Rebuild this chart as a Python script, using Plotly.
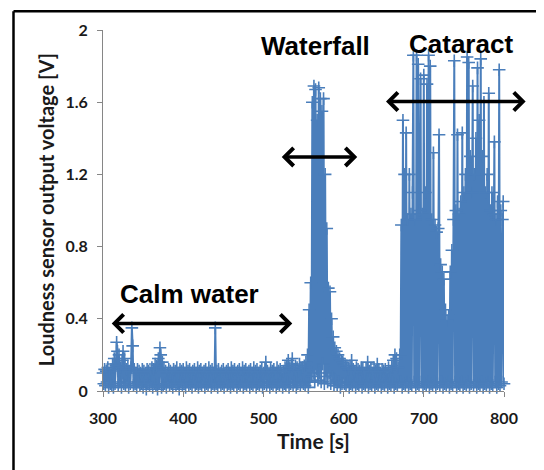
import plotly.graph_objects as go

# ---------------- data (1 sample per second) ----------------
calm_water = [  # t = 300 .. 549
    0.10, 0.04, 0.12, 0.03, 0.11, 0.05, 0.13, 0.02, 0.10, 0.04,
    0.12, 0.03, 0.15, 0.02, 0.18, 0.04, 0.14, 0.27, 0.22, 0.03,
    0.20, 0.05, 0.13, 0.02, 0.17, 0.22, 0.04, 0.18, 0.03, 0.12,
    0.05, 0.14, 0.02, 0.11, 0.04, 0.13, 0.35, 0.25, 0.03, 0.12,
    0.04, 0.10, 0.02, 0.12, 0.05, 0.11, 0.03, 0.10, 0.04, 0.12,
    0.02, 0.11, 0.05, 0.10, 0.01, 0.12, 0.04, 0.11, 0.03, 0.10,
    0.05, 0.13, 0.02, 0.12, 0.04, 0.15, 0.03, 0.14, 0.01, 0.18,
    0.04, 0.24, 0.20, 0.02, 0.16, 0.03, 0.13, 0.04, 0.11, 0.02,
    0.10, 0.05, 0.12, 0.03, 0.11, 0.04, 0.10, 0.02, 0.12, 0.05,
    0.11, 0.03, 0.13, 0.04, 0.10, 0.01, 0.12, 0.05, 0.11, 0.03,
    0.12, 0.04, 0.10, 0.02, 0.13, 0.05, 0.11, 0.03, 0.12, 0.04,
    0.10, 0.02, 0.11, 0.05, 0.12, 0.03, 0.10, 0.04, 0.13, 0.02,
    0.11, 0.04, 0.12, 0.03, 0.10, 0.05, 0.11, 0.02, 0.12, 0.04,
    0.10, 0.03, 0.13, 0.05, 0.11, 0.02, 0.12, 0.04, 0.10, 0.03,
    0.35, 0.04, 0.11, 0.02, 0.12, 0.05, 0.10, 0.03, 0.11, 0.04,
    0.12, 0.02, 0.10, 0.05, 0.11, 0.03, 0.12, 0.04, 0.10, 0.02,
    0.13, 0.04, 0.11, 0.03, 0.12, 0.05, 0.10, 0.02, 0.11, 0.04,
    0.12, 0.03, 0.10, 0.05, 0.13, 0.02, 0.11, 0.04, 0.12, 0.03,
    0.10, 0.05, 0.11, 0.02, 0.12, 0.04, 0.10, 0.03, 0.13, 0.05,
    0.11, 0.02, 0.12, 0.04, 0.10, 0.03, 0.11, 0.05, 0.12, 0.02,
    0.10, 0.04, 0.12, 0.16, 0.03, 0.11, 0.05, 0.10, 0.02, 0.12,
    0.04, 0.11, 0.03, 0.12, 0.05, 0.10, 0.02, 0.13, 0.04, 0.11,
    0.03, 0.12, 0.05, 0.10, 0.02, 0.11, 0.04, 0.13, 0.03, 0.14,
    0.05, 0.17, 0.02, 0.13, 0.04, 0.15, 0.18, 0.03, 0.12, 0.05,
    0.14, 0.02, 0.13, 0.04, 0.11, 0.15, 0.03, 0.12, 0.05, 0.13,
]
waterfall = [  # t = 550 .. 599
    0.04, 0.14, 0.03, 0.16, 0.05, 0.20, 0.02, 0.45, 0.05, 0.60,
    0.08, 1.60, 0.10, 1.69, 0.05, 1.67, 0.12, 1.50, 0.06, 1.68,
    0.10, 1.62, 0.05, 1.55, 0.15, 1.62, 0.04, 1.20, 0.08, 0.90,
    0.05, 0.57, 0.10, 0.55, 0.04, 0.40, 0.08, 0.30, 0.03, 0.24,
    0.06, 0.22, 0.03, 0.20, 0.05, 0.18, 0.02, 0.17, 0.04, 0.16,
]
after_waterfall = [  # t = 600 .. 669
    0.15, 0.04, 0.14, 0.03, 0.13, 0.05, 0.12, 0.02, 0.14, 0.04,
    0.17, 0.03, 0.12, 0.05, 0.11, 0.02, 0.13, 0.04, 0.12, 0.03,
    0.11, 0.05, 0.13, 0.02, 0.12, 0.04, 0.10, 0.03, 0.12, 0.05,
    0.16, 0.02, 0.11, 0.04, 0.12, 0.03, 0.10, 0.05, 0.13, 0.02,
    0.11, 0.04, 0.15, 0.03, 0.12, 0.05, 0.10, 0.02, 0.12, 0.04,
    0.11, 0.03, 0.12, 0.05, 0.10, 0.02, 0.13, 0.04, 0.11, 0.03,
    0.14, 0.05, 0.17, 0.02, 0.20, 0.04, 0.18, 0.03, 0.13, 0.05,
]
cataract = [  # t = 670 .. 800
    0.20, 0.05, 0.92, 0.02, 1.50, 0.04, 1.20, 0.03, 1.43, 0.05,
    0.95, 0.02, 1.20, 0.04, 0.98, 0.03, 1.10, 1.86, 0.05, 0.95,
    0.02, 1.86, 0.04, 1.81, 0.03, 1.00, 1.73, 0.05, 0.98, 0.02,
    1.75, 0.04, 1.10, 0.03, 1.70, 0.05, 1.86, 0.02, 1.80, 0.04,
    0.95, 0.03, 1.32, 0.05, 0.92, 0.02, 0.88, 0.04, 0.90, 1.42,
    0.03, 0.70, 0.05, 0.66, 0.02, 0.62, 0.04, 0.45, 0.03, 0.39,
    0.05, 0.42, 0.02, 0.66, 0.04, 0.78, 0.03, 0.95, 1.83, 0.05,
    1.00, 0.02, 1.42, 0.04, 0.98, 0.03, 1.05, 0.05, 1.43, 0.02,
    1.10, 0.04, 1.20, 0.03, 1.85, 0.05, 1.82, 0.02, 1.30, 0.04,
    1.10, 1.69, 0.03, 1.20, 0.05, 1.40, 0.02, 1.79, 0.04, 1.50,
    0.03, 1.84, 0.05, 1.30, 0.02, 1.60, 0.04, 1.10, 0.03, 1.20,
    0.05, 1.65, 0.02, 1.00, 0.04, 1.10, 0.03, 0.98, 1.38, 0.05,
    0.95, 0.02, 1.05, 0.04, 1.78, 0.03, 1.00, 0.05, 0.95, 1.05,
    0.04,
]
time_start = 300
time_end = 800
x_ticks = [300, 400, 500, 600, 700, 800]
y_ticks = [0, 0.4, 0.8, 1.2, 1.6, 2]
y_tick_labels = ["0", "0.4", "0.8", "1.2", "1.6", "2"]

voltage = calm_water + waterfall + after_waterfall + cataract
time_s = list(range(time_start, time_end + 1))

# ---------------- figure ----------------
BLUE = "#4A7EBB"
AXIS_GREY = "#868686"
TEXT_DARK = "#1a1a1a"
TICK_FONT = dict(family="Lato", size=16, color=TEXT_DARK, weight=700)
NOTE_FONT = dict(family="Liberation Sans", size=26, color="#000000", weight=700)

fig = go.Figure()
fig.add_trace(go.Scatter(
    x=time_s, y=voltage, mode="lines+markers",
    line=dict(color=BLUE, width=2),
    marker=dict(symbol="cross-thin", size=9, color=BLUE,
                line=dict(color=BLUE, width=1.6)),
    cliponaxis=False, showlegend=False, hoverinfo="x+y",
))

# the page body adds an 8 px offset, so the figure is 8 px smaller than the window
fig.update_layout(
    width=536, height=462,
    margin=dict(l=95, r=40, t=19, b=79, pad=0),
    paper_bgcolor="white", plot_bgcolor="white",
    xaxis=dict(range=[time_start, time_end], tickvals=x_ticks,
               showgrid=False, zeroline=False, showline=True,
               linecolor=AXIS_GREY, linewidth=1, ticks="outside",
               ticklen=5, tickcolor=AXIS_GREY, tickfont=TICK_FONT,
               ticklabelstandoff=8),
    yaxis=dict(range=[0, 2], tickvals=y_ticks, ticktext=y_tick_labels,
               showgrid=False, zeroline=False, showline=True,
               linecolor=AXIS_GREY, linewidth=1, ticks="outside",
               ticklen=5, tickcolor=AXIS_GREY, tickfont=TICK_FONT,
               ticklabelstandoff=6),
)

# axis titles
fig.add_annotation(text="Time [s]", xref="paper", yref="paper",
                   x=0.526, y=-0.137, xanchor="center", yanchor="middle",
                   showarrow=False,
                   font=dict(family="Lato", size=21, color=TEXT_DARK, weight=700))
fig.add_annotation(text="Loudness sensor output voltage [V]", xref="paper", yref="paper",
                   x=-0.142, y=0.501, xanchor="center", yanchor="middle",
                   textangle=-90, showarrow=False,
                   font=dict(family="Lato", size=20, color=TEXT_DARK, weight=700))

# region labels
fig.add_annotation(text="Calm water", x=408, y=0.54, xref="x", yref="y",
                   xanchor="center", yanchor="middle", showarrow=False, font=NOTE_FONT)
fig.add_annotation(text="Waterfall", x=565, y=1.91, xref="x", yref="y",
                   xanchor="center", yanchor="middle", showarrow=False, font=NOTE_FONT)
fig.add_annotation(text="Cataract", x=746, y=1.92, xref="x", yref="y",
                   xanchor="center", yanchor="middle", showarrow=False, font=NOTE_FONT)

# double-headed arrows
for (x0, x1, yv) in [(309, 536, 0.374), (521, 617, 1.297), (651, 827, 1.604)]:
    fig.add_annotation(x=x1, y=yv, ax=x0, ay=yv, xref="x", yref="y",
                       axref="x", ayref="y", text="", showarrow=True,
                       arrowhead=4, startarrowhead=4, arrowside="end+start",
                       arrowwidth=3.5, arrowsize=1, arrowcolor="black",
                       standoff=0, startstandoff=0)

# outer frame (top and left border of the image)
fig.add_shape(type="line", xref="paper", yref="paper",
              x0=-0.2232, x1=1.2, y0=1.0522, y1=1.0522,
              line=dict(color="black", width=2.5))
fig.add_shape(type="line", xref="paper", yref="paper",
              x0=-0.2232, x1=-0.2232, y0=1.0522, y1=-0.25,
              line=dict(color="black", width=2.5))

fig.write_html("out.html")
